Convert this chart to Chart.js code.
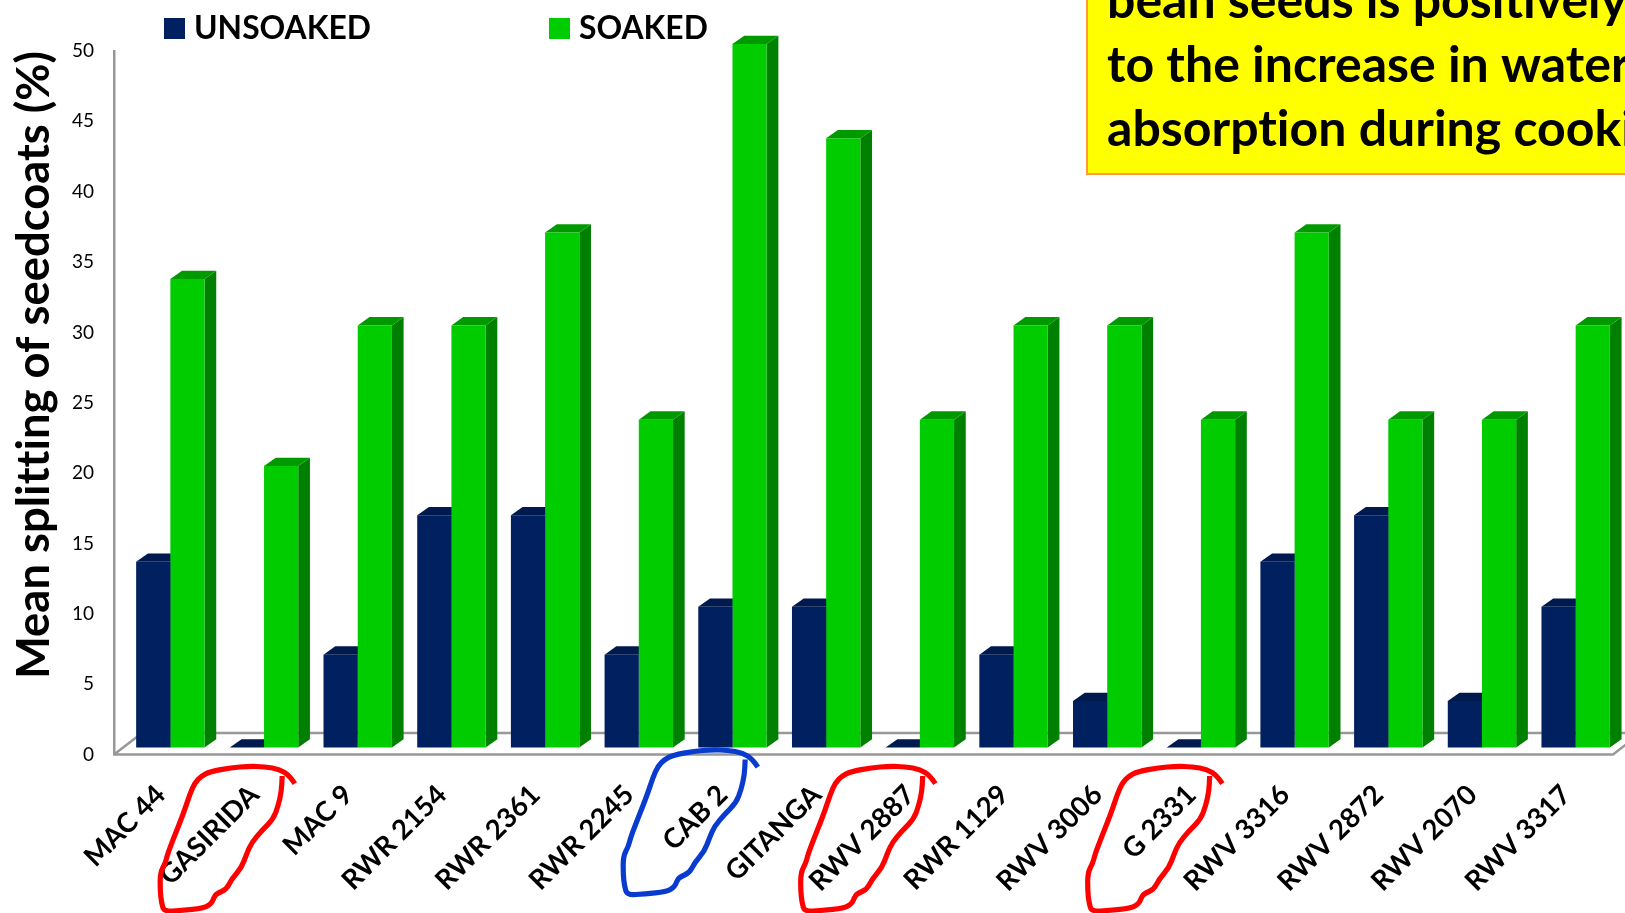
<!DOCTYPE html>
<html>
<head>
<meta charset="utf-8">
<title>Mean splitting of seedcoats</title>
<script src="https://cdn.jsdelivr.net/npm/chart.js@4"></script>
<style>
  html, body { margin: 0; padding: 0; background: #fff; overflow: hidden; }
  canvas { display: block; }
</style>
</head>
<body>
<canvas id="chart" width="1625" height="913"></canvas>
<script>
// Bean varieties along the x axis
const varieties = ['MAC 44', 'GASIRIDA', 'MAC 9', 'RWR 2154', 'RWR 2361', 'RWR 2245', 'CAB 2', 'GITANGA',
  'RWV 2887', 'RWR 1129', 'RWV 3006', 'G 2331', 'RWV 3316', 'RWV 2872', 'RWV 2070', 'RWV 3317'];

// Mean seedcoat splitting, percent
const unsoaked = [13.2, 0, 6.6, 16.5, 16.5, 6.6, 10, 10, 0, 6.6, 3.3, 0, 13.2, 16.5, 3.3, 10];
const soaked = [33.3, 20, 30, 30, 36.6, 23.3, 50, 43.3, 23.3, 30, 30, 23.3, 36.6, 23.3, 23.3, 30];

const seriesNames = ['UNSOAKED', 'SOAKED'];
const frontColors = ['#002060', '#00cc00'];
const topColors = ['#001a4f', '#009a00'];
const sideColors = ['#001848', '#008000'];

const axisTitle = 'Mean splitting of seedcoats (%)';
const calloutLines = ['bean seeds is positively', 'to the increase in water', 'absorption during cooki'];

const FONT = 'Lato, "Open Sans", sans-serif';
const GREY = '#989898';

// Oblique offset of the box faces and of the bars from the axis plane
const FACE_DX = 11.7, FACE_DY = 8.3;
const BAR_DX = 9.5, BAR_DY = -7;

// Pen loop drawn around a label, relative to the page
const loopPath = [[430,98],[415,75],[385,55],[340,47],[290,46],[240,50],[175,62],[150,75],[130,95],[115,130],
  [100,175],[85,215],[65,265],[48,310],[42,335],[26,365],[26,420],[30,455],[38,482],[90,478],[155,472],[180,458],
  [187,440],[195,428],[225,415],[240,385],[270,350],[285,310],[300,275],[330,240],[365,205],[380,165],[390,120],[392,75]];
const loops = [
  { x: 151.5, y: 751, color: '#ff0000' },
  { x: 614.5, y: 734.5, color: '#0a3bcf' },
  { x: 792, y: 751, color: '#ff0000' },
  { x: 1079, y: 751, color: '#ff0000' }
];

function poly(ctx, pts, fill) {
  ctx.beginPath();
  pts.forEach((p, i) => i ? ctx.lineTo(p[0], p[1]) : ctx.moveTo(p[0], p[1]));
  ctx.closePath();
  ctx.fillStyle = fill;
  ctx.fill();
}

// A tiny letter spacing keeps the font's "ti" ligature out of the text
const textPlugin = {
  id: 'textSetup',
  beforeDraw(chart) {
    chart.ctx.letterSpacing = '0.01px';
  }
};

// Floor of the box, behind the bars
const floorPlugin = {
  id: 'floor',
  beforeDatasetsDraw(chart) {
    const { ctx, chartArea: a } = chart;
    const backY = a.bottom - 21.5;
    ctx.save();
    ctx.strokeStyle = GREY;
    ctx.lineWidth = 2.5;
    ctx.beginPath();
    ctx.moveTo(a.left, a.bottom);
    ctx.lineTo(a.left + 28, backY);
    ctx.lineTo(1625, backY);
    ctx.moveTo(a.left - 1, a.bottom);
    ctx.lineTo(a.right, a.bottom);
    ctx.lineTo(a.right + 28, backY);
    ctx.stroke();
    ctx.restore();
  }
};

// Top and side faces of each bar; the fronts come from the bar elements
const boxPlugin = {
  id: 'boxFaces',
  beforeDatasetsDraw(chart) {
    const { ctx } = chart;
    ctx.save();
    ctx.translate(BAR_DX, BAR_DY);
    chart.data.datasets.forEach((ds, i) => {
      chart.getDatasetMeta(i).data.forEach(bar => {
        const l = bar.x - bar.width / 2, r = bar.x + bar.width / 2, t = bar.y, b = bar.base;
        poly(ctx, [[r, b], [r + FACE_DX, b - FACE_DY], [r + FACE_DX, t - FACE_DY], [r, t]], sideColors[i]);
        poly(ctx, [[l, t], [l + FACE_DX, t - FACE_DY], [r + FACE_DX, t - FACE_DY], [r, t]], topColors[i]);
      });
    });
  },
  afterDatasetsDraw(chart) {
    chart.ctx.restore();
  }
};

// Legend row, callout box and pen loops
const overlayPlugin = {
  id: 'overlay',
  afterDraw(chart) {
    const { ctx } = chart;
    ctx.save();

    // legend
    const legendX = [164, 549];
    ctx.font = 'bold 31.8px ' + FONT;
    ctx.textBaseline = 'middle';
    ctx.textAlign = 'left';
    seriesNames.forEach((name, i) => {
      ctx.fillStyle = frontColors[i];
      ctx.fillRect(legendX[i], 18, 21, 21);
      ctx.fillStyle = '#000';
      ctx.fillText(name, legendX[i] + 30, 29);
    });

    // callout
    ctx.fillStyle = '#ffff00';
    ctx.fillRect(1087, -4, 560, 178);
    ctx.strokeStyle = '#ff9a3c';
    ctx.lineWidth = 2;
    ctx.strokeRect(1087, -4, 560, 178);
    ctx.fillStyle = '#000';
    ctx.font = 'bold 50px ' + FONT;
    ctx.textBaseline = 'alphabetic';
    calloutLines.forEach((line, i) => ctx.fillText(line, 1107, 18 + i * 64));

    // pen loops
    ctx.lineWidth = 5.2;
    ctx.lineJoin = 'round';
    ctx.lineCap = 'butt';
    loops.forEach(loop => {
      const pts = loopPath.map(p => [loop.x + p[0] / 3, loop.y + p[1] / 3]);
      ctx.strokeStyle = loop.color;
      ctx.beginPath();
      ctx.moveTo(pts[0][0], pts[0][1]);
      for (let i = 1; i < pts.length - 1; i++) {
        const mx = (pts[i][0] + pts[i + 1][0]) / 2, my = (pts[i][1] + pts[i + 1][1]) / 2;
        ctx.quadraticCurveTo(pts[i][0], pts[i][1], mx, my);
      }
      const last = pts[pts.length - 1];
      ctx.lineTo(last[0], last[1]);
      ctx.stroke();
    });
    ctx.restore();
  }
};

new Chart(document.getElementById('chart'), {
  type: 'bar',
  data: {
    labels: varieties,
    datasets: [
      { label: seriesNames[0], data: unsoaked, backgroundColor: frontColors[0], clip: false },
      { label: seriesNames[1], data: soaked, backgroundColor: frontColors[1], clip: false }
    ]
  },
  options: {
    responsive: false,
    animation: false,
    layout: { padding: { top: 51, right: 12, left: 0, bottom: 0 } },
    datasets: { bar: { categoryPercentage: 0.73, barPercentage: 1 } },
    plugins: { legend: { display: false }, tooltip: { enabled: false } },
    scales: {
      x: {
        grid: { display: false },
        border: { display: false },
        afterFit(scale) { scale.height = 158.5; },
        ticks: {
          color: '#000',
          font: { family: FONT, size: 27.5, weight: 'bold' },
          maxRotation: 45, minRotation: 45,
          autoSkip: false,
          padding: 16,
          labelOffset: 0
        }
      },
      y: {
        min: 0, max: 50,
        grid: { display: false, drawTicks: false },
        border: { color: GREY, width: 2.5 },
        afterFit(scale) { scale.width = 114; },
        ticks: {
          stepSize: 5,
          color: '#000',
          padding: 20,
          font: { family: FONT, size: 19 }
        },
        title: {
          display: true,
          text: axisTitle,
          align: 'end',
          color: '#000',
          font: { family: FONT, size: 45.4, weight: 'bold' },
          padding: { top: 7, bottom: 0 }
        }
      }
    }
  },
  plugins: [textPlugin, floorPlugin, boxPlugin, overlayPlugin]
});
</script>
</body>
</html>
